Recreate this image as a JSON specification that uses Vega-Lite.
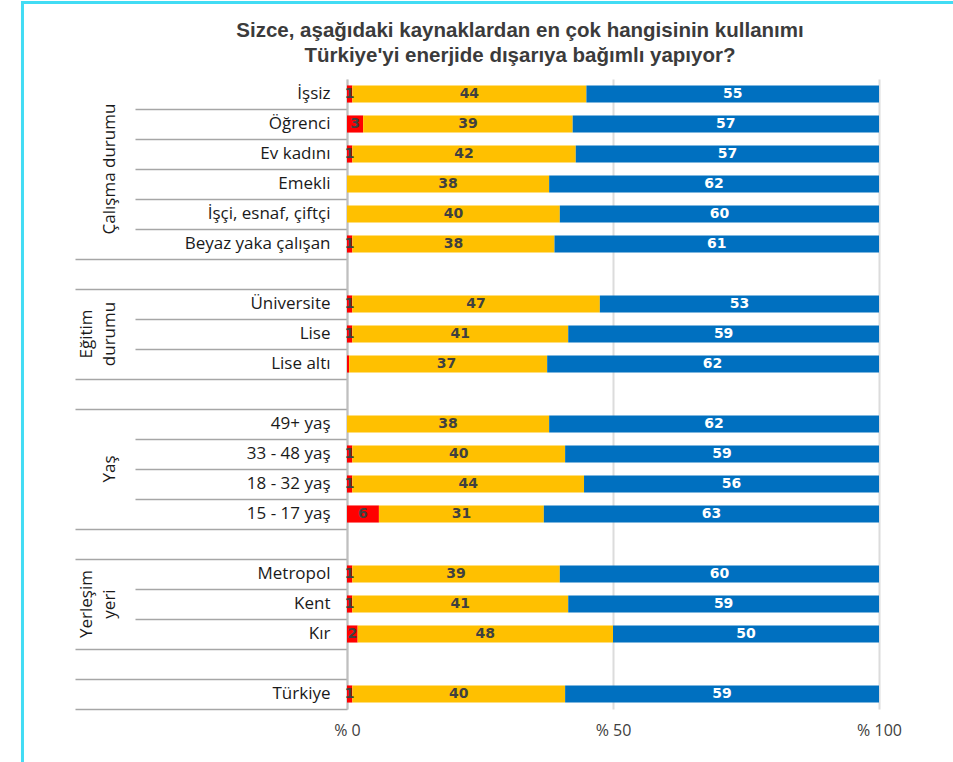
{
  "$schema": "https://vega.github.io/schema/vega-lite/v6.json",
  "autosize": {"type": "none"},
  "padding": {"left": 347, "top": 79, "right": 74, "bottom": 53},
  "width": 532,
  "height": 630,
  "background": "white",
  "config": {
    "view": {"stroke": null},
    "axisY": {
      "title": null,
      "bandPosition": 1,
      "labelOffset": 0,
      "zindex": 1,
      "domainColor": "#bfbfbf",
      "domainWidth": 2,
      "tickColor": "#a6a6a6",
      "tickWidth": 1.5,
      "tickSize": 272,
      "tickDash": {"condition": {"test": "indexof(['Beyaz yaka çalışan',' ','Lise altı','  ','15 - 17 yaş','   ','Kır','    ','Türkiye'], datum.value) >= 0", "value": [1000, 0]}, "value": [212, 1000]},
      "labelPadding": -255,
      "labelFont": "Open Sans",
      "labelFontSize": 17,
      "labelColor": "#1a1a1a",
      "labelLimit": 300
    },
    "axisX": {
      "title": null,
      "labelExpr": "'% ' + round(datum.value * 100)",
      "labelFlush": false,
      "domain": false,
      "ticks": false,
      "grid": true,
      "gridColor": "#dcdcdc",
      "gridWidth": 2,
      "labelPadding": 13,
      "labelFont": "Open Sans",
      "labelFontSize": 16,
      "labelColor": "#404040"
    }
  },
  "title": {
    "text": ["Sizce, aşağıdaki kaynaklardan en çok hangisinin kullanımı", "Türkiye'yi enerjide dışarıya bağımlı yapıyor?"],
    "font": "Liberation Sans",
    "fontSize": 20.5,
    "fontWeight": "bold",
    "color": "#3b3b3b",
    "anchor": "middle",
    "frame": "group",
    "dx": -93,
    "offset": -67,
    "lineHeight": 25
  },
  "datasets": {
    "yanitlar": [
      {"kategori": "İşsiz", "secenek": "Seçenek 1", "deger": 1},
      {"kategori": "İşsiz", "secenek": "Seçenek 2", "deger": 44},
      {"kategori": "İşsiz", "secenek": "Seçenek 3", "deger": 55},
      {"kategori": "Öğrenci", "secenek": "Seçenek 1", "deger": 3},
      {"kategori": "Öğrenci", "secenek": "Seçenek 2", "deger": 39},
      {"kategori": "Öğrenci", "secenek": "Seçenek 3", "deger": 57},
      {"kategori": "Ev kadını", "secenek": "Seçenek 1", "deger": 1},
      {"kategori": "Ev kadını", "secenek": "Seçenek 2", "deger": 42},
      {"kategori": "Ev kadını", "secenek": "Seçenek 3", "deger": 57},
      {"kategori": "Emekli", "secenek": "Seçenek 1", "deger": 0},
      {"kategori": "Emekli", "secenek": "Seçenek 2", "deger": 38},
      {"kategori": "Emekli", "secenek": "Seçenek 3", "deger": 62},
      {"kategori": "İşçi, esnaf, çiftçi", "secenek": "Seçenek 1", "deger": 0},
      {"kategori": "İşçi, esnaf, çiftçi", "secenek": "Seçenek 2", "deger": 40},
      {"kategori": "İşçi, esnaf, çiftçi", "secenek": "Seçenek 3", "deger": 60},
      {"kategori": "Beyaz yaka çalışan", "secenek": "Seçenek 1", "deger": 1},
      {"kategori": "Beyaz yaka çalışan", "secenek": "Seçenek 2", "deger": 38},
      {"kategori": "Beyaz yaka çalışan", "secenek": "Seçenek 3", "deger": 61},
      {"kategori": "Üniversite", "secenek": "Seçenek 1", "deger": 1},
      {"kategori": "Üniversite", "secenek": "Seçenek 2", "deger": 47},
      {"kategori": "Üniversite", "secenek": "Seçenek 3", "deger": 53},
      {"kategori": "Lise", "secenek": "Seçenek 1", "deger": 1},
      {"kategori": "Lise", "secenek": "Seçenek 2", "deger": 41},
      {"kategori": "Lise", "secenek": "Seçenek 3", "deger": 59},
      {"kategori": "Lise altı", "secenek": "Seçenek 1", "deger": 0.4},
      {"kategori": "Lise altı", "secenek": "Seçenek 2", "deger": 37},
      {"kategori": "Lise altı", "secenek": "Seçenek 3", "deger": 62},
      {"kategori": "49+ yaş", "secenek": "Seçenek 1", "deger": 0},
      {"kategori": "49+ yaş", "secenek": "Seçenek 2", "deger": 38},
      {"kategori": "49+ yaş", "secenek": "Seçenek 3", "deger": 62},
      {"kategori": "33 - 48 yaş", "secenek": "Seçenek 1", "deger": 1},
      {"kategori": "33 - 48 yaş", "secenek": "Seçenek 2", "deger": 40},
      {"kategori": "33 - 48 yaş", "secenek": "Seçenek 3", "deger": 59},
      {"kategori": "18 - 32 yaş", "secenek": "Seçenek 1", "deger": 1},
      {"kategori": "18 - 32 yaş", "secenek": "Seçenek 2", "deger": 44},
      {"kategori": "18 - 32 yaş", "secenek": "Seçenek 3", "deger": 56},
      {"kategori": "15 - 17 yaş", "secenek": "Seçenek 1", "deger": 6},
      {"kategori": "15 - 17 yaş", "secenek": "Seçenek 2", "deger": 31},
      {"kategori": "15 - 17 yaş", "secenek": "Seçenek 3", "deger": 63},
      {"kategori": "Metropol", "secenek": "Seçenek 1", "deger": 1},
      {"kategori": "Metropol", "secenek": "Seçenek 2", "deger": 39},
      {"kategori": "Metropol", "secenek": "Seçenek 3", "deger": 60},
      {"kategori": "Kent", "secenek": "Seçenek 1", "deger": 1},
      {"kategori": "Kent", "secenek": "Seçenek 2", "deger": 41},
      {"kategori": "Kent", "secenek": "Seçenek 3", "deger": 59},
      {"kategori": "Kır", "secenek": "Seçenek 1", "deger": 2},
      {"kategori": "Kır", "secenek": "Seçenek 2", "deger": 48},
      {"kategori": "Kır", "secenek": "Seçenek 3", "deger": 50},
      {"kategori": "Türkiye", "secenek": "Seçenek 1", "deger": 1},
      {"kategori": "Türkiye", "secenek": "Seçenek 2", "deger": 40},
      {"kategori": "Türkiye", "secenek": "Seçenek 3", "deger": 59}
    ],
    "gruplarOrta": [
      {"grup": "Çalışma durumu", "kategori": "Ev kadını"},
      {"grup": "Yaş", "kategori": "33 - 48 yaş"}
    ],
    "gruplarSatir": [
      {"grup": "Eğitim\ndurumu", "kategori": "Lise"},
      {"grup": "Yerleşim\nyeri", "kategori": "Kent"}
    ]
  },
  "resolve": {"scale": {"y": "independent"}},
  "layer": [
    {
      "layer": [
        {
          "data": {"name": "yanitlar"},
          "mark": {"type": "bar", "height": {"band": 0.57}},
          "encoding": {
            "y": {
              "field": "kategori", "type": "nominal",
              "scale": {"domain": ["İşsiz", "Öğrenci", "Ev kadını", "Emekli", "İşçi, esnaf, çiftçi", "Beyaz yaka çalışan", " ", "Üniversite", "Lise", "Lise altı", "  ", "49+ yaş", "33 - 48 yaş", "18 - 32 yaş", "15 - 17 yaş", "   ", "Metropol", "Kent", "Kır", "    ", "Türkiye"], "paddingInner": 0, "paddingOuter": 0}
            },
            "x": {
              "field": "deger", "type": "quantitative", "stack": "normalize",
              "scale": {"domain": [0, 1], "nice": false},
              "axis": {"values": [0, 0.5, 1]}
            },
            "color": {
              "field": "secenek", "type": "nominal",
              "scale": {"domain": ["Seçenek 1", "Seçenek 2", "Seçenek 3"], "range": ["#ff0000", "#ffc000", "#0070c0"]},
              "legend": null
            }
          }
        },
        {
          "data": {"name": "yanitlar"},
          "transform": [{"filter": "datum.deger >= 0.5"}],
          "mark": {"type": "text", "font": "DejaVu Sans", "fontWeight": "bold", "fontSize": 14, "align": "center", "baseline": "middle"},
          "encoding": {
            "y": {
              "field": "kategori", "type": "nominal",
              "scale": {"domain": ["İşsiz", "Öğrenci", "Ev kadını", "Emekli", "İşçi, esnaf, çiftçi", "Beyaz yaka çalışan", " ", "Üniversite", "Lise", "Lise altı", "  ", "49+ yaş", "33 - 48 yaş", "18 - 32 yaş", "15 - 17 yaş", "   ", "Metropol", "Kent", "Kır", "    ", "Türkiye"], "paddingInner": 0, "paddingOuter": 0}
            },
            "x": {
              "field": "deger", "type": "quantitative", "stack": "normalize", "bandPosition": 0.5,
              "scale": {"domain": [0, 1], "nice": false}
            },
            "detail": {"field": "secenek", "type": "nominal"},
            "text": {"field": "deger", "type": "quantitative", "format": ".0f"},
            "color": {"condition": {"test": "datum.secenek === 'Seçenek 3'", "value": "#ffffff"}, "value": "#404040"}
          }
        },
        {
          "data": {"name": "gruplarOrta"},
          "mark": {"type": "text", "angle": 270, "font": "Open Sans", "fontSize": 17, "color": "#1a1a1a", "align": "center", "baseline": "middle", "lineBreak": "\n", "lineHeight": 23},
          "encoding": {
            "y": {
              "field": "kategori", "type": "nominal", "bandPosition": 1,
              "scale": {"domain": ["İşsiz", "Öğrenci", "Ev kadını", "Emekli", "İşçi, esnaf, çiftçi", "Beyaz yaka çalışan", " ", "Üniversite", "Lise", "Lise altı", "  ", "49+ yaş", "33 - 48 yaş", "18 - 32 yaş", "15 - 17 yaş", "   ", "Metropol", "Kent", "Kır", "    ", "Türkiye"], "paddingInner": 0, "paddingOuter": 0}
            },
            "x": {"datum": -0.4455, "type": "quantitative", "scale": {"domain": [0, 1], "nice": false}},
            "text": {"field": "grup", "type": "nominal"}
          }
        },
        {
          "data": {"name": "gruplarSatir"},
          "mark": {"type": "text", "angle": 270, "font": "Open Sans", "fontSize": 17, "color": "#1a1a1a", "align": "center", "baseline": "middle", "lineBreak": "\n", "lineHeight": 23},
          "encoding": {
            "y": {
              "field": "kategori", "type": "nominal", "bandPosition": 0.5,
              "scale": {"domain": ["İşsiz", "Öğrenci", "Ev kadını", "Emekli", "İşçi, esnaf, çiftçi", "Beyaz yaka çalışan", " ", "Üniversite", "Lise", "Lise altı", "  ", "49+ yaş", "33 - 48 yaş", "18 - 32 yaş", "15 - 17 yaş", "   ", "Metropol", "Kent", "Kır", "    ", "Türkiye"], "paddingInner": 0, "paddingOuter": 0}
            },
            "x": {"datum": -0.4887, "type": "quantitative", "scale": {"domain": [0, 1], "nice": false}},
            "text": {"field": "grup", "type": "nominal"}
          }
        }
      ]
    },
    {
      "data": {"values": [{}]},
      "layer": [
        {
          "mark": {"type": "rule", "color": "#41dcf4", "strokeWidth": 3},
          "encoding": {
            "x": {"datum": -0.61, "type": "quantitative", "scale": {"domain": [0, 1], "nice": false}},
            "y": {
              "datum": 1.1238, "type": "quantitative",
              "scale": {"domain": [0, 1], "nice": false},
              "axis": {"orient": "right", "labels": false, "ticks": false, "domain": false, "grid": false, "title": null}
            },
            "y2": {"datum": -0.0889}
          }
        },
        {
          "mark": {"type": "rule", "color": "#41dcf4", "strokeWidth": 3},
          "encoding": {
            "x": {"datum": -0.6125, "type": "quantitative", "scale": {"domain": [0, 1], "nice": false}},
            "x2": {"datum": 1.14},
            "y": {
              "datum": 1.1214, "type": "quantitative",
              "scale": {"domain": [0, 1], "nice": false},
              "axis": {"orient": "right", "labels": false, "ticks": false, "domain": false, "grid": false, "title": null}
            }
          }
        }
      ]
    }
  ]
}
